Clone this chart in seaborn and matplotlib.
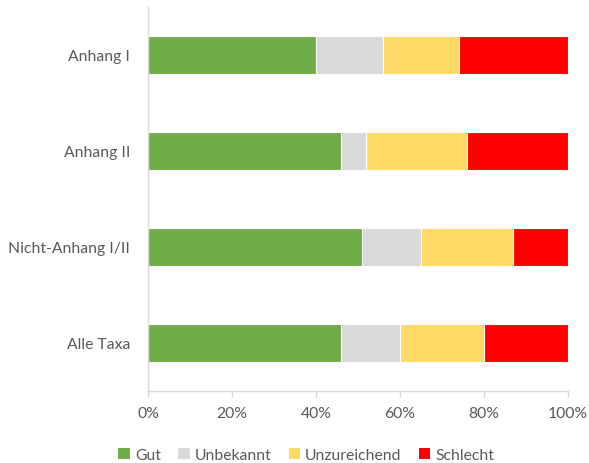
import seaborn as sns
import pandas as pd
import numpy as np
import matplotlib.pyplot as plt
from matplotlib.patches import Patch
from matplotlib.ticker import PercentFormatter

# Data (percent per category)
kategorien = ['Anhang I', 'Anhang II', 'Nicht-Anhang I/II', 'Alle Taxa']
gut = [40, 46, 51, 46]
unbekannt = [16, 6, 14, 14]
unzureichend = [18, 24, 22, 20]
schlecht = [26, 24, 13, 20]

serien = ['Gut', 'Unbekannt', 'Unzureichend', 'Schlecht']
farben = ['#70ad47', '#d9d9d9', '#ffd966', '#ff0000']

df = pd.DataFrame({'kategorie': kategorien, 'Gut': gut, 'Unbekannt': unbekannt,
                   'Unzureichend': unzureichend, 'Schlecht': schlecht})
cum = df[serien].cumsum(axis=1)

sns.set_theme(style='white')
plt.rcParams['font.family'] = ['Lato', 'DejaVu Sans']

fig = plt.figure(figsize=(5.89, 4.64), dpi=100)
ax = fig.add_axes([0.2513, 0.1552, 0.7130, 0.8276])

# stacked: draw cumulative totals from back to front
for s, c in reversed(list(zip(serien, farben))):
    sns.barplot(x=cum[s], y=df['kategorie'], orient='h', color=c, width=0.4,
                edgecolor='white', linewidth=0.8, saturation=1, ax=ax)

ax.set_xlim(0, 100)
ax.set_xticks(np.arange(0, 101, 20))
ax.xaxis.set_major_formatter(PercentFormatter(decimals=0))
ax.set_xlabel('')
ax.set_ylabel('')
for sp in ['top', 'right']:
    ax.spines[sp].set_visible(False)
for sp in ['left', 'bottom']:
    ax.spines[sp].set_color('#d9d9d9')
    ax.spines[sp].set_linewidth(1.0)
ax.tick_params(axis='x', colors='#d9d9d9', length=4, width=1.0, direction='out',
               labelcolor='#595959', labelsize=11.3, pad=7, bottom=True)
ax.tick_params(axis='y', length=0, labelcolor='#595959', labelsize=11.3, pad=13)

handles = [Patch(facecolor=c, edgecolor='none', label=s) for s, c in zip(serien, farben)]
fig.legend(handles=handles, loc='center', bbox_to_anchor=(0.52, 0.018), ncol=4,
           frameon=False, fontsize=11.3, labelcolor='#595959', handlelength=0.75,
           handleheight=0.75, handletextpad=0.3, columnspacing=1.1)

fig.savefig('out.png', dpi=100)
